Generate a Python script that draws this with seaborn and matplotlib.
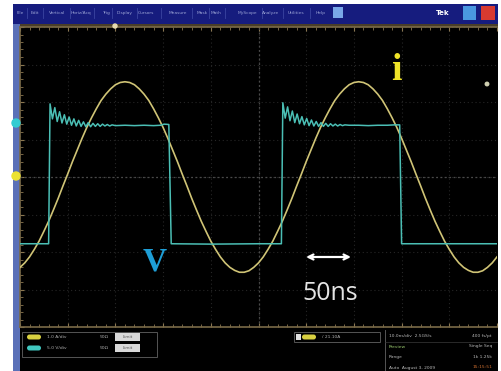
import matplotlib
matplotlib.use("Agg")
import matplotlib.pyplot as plt
from matplotlib.patches import Rectangle, Ellipse, FancyBboxPatch
from matplotlib.ticker import MultipleLocator
import pandas as pd
import seaborn as sns

# ---------------- data (screen divisions; 50 ns per horizontal division) ----------------
t_i = [0.0, 0.1, 0.2, 0.3, 0.4, 0.5, 0.6, 0.7, 0.8, 0.9,
       1.0, 1.1, 1.2, 1.3, 1.4, 1.5, 1.6, 1.7, 1.8, 1.9,
       2.0, 2.1, 2.2, 2.3, 2.4, 2.5, 2.6, 2.7, 2.8, 2.9,
       3.0, 3.1, 3.2, 3.3, 3.4, 3.5, 3.6, 3.7, 3.8, 3.9,
       4.0, 4.1, 4.2, 4.3, 4.4, 4.5, 4.6, 4.7, 4.8, 4.9,
       5.0, 5.1, 5.2, 5.3, 5.4, 5.5, 5.6, 5.7, 5.8, 5.9,
       6.0, 6.1, 6.2, 6.3, 6.4, 6.5, 6.6, 6.7, 6.8, 6.9,
       7.0, 7.1, 7.2, 7.3, 7.4, 7.5, 7.6, 7.7, 7.8, 7.9,
       8.0, 8.1, 8.2, 8.3, 8.4, 8.5, 8.6, 8.7, 8.8, 8.9,
       9.0, 9.1, 9.2, 9.3, 9.4, 9.5, 9.6, 9.7, 9.8, 9.9, 10.0]
i_vals = [-2.41, -2.29, -2.13, -1.93, -1.71, -1.45, -1.18, -0.88, -0.57, -0.24,
          0.08, 0.41, 0.72, 1.03, 1.32, 1.58, 1.82, 2.04, 2.21, 2.35,
          2.46, 2.52, 2.54, 2.52, 2.46, 2.35, 2.21, 2.04, 1.82, 1.58,
          1.32, 1.03, 0.72, 0.41, 0.08, -0.24, -0.57, -0.88, -1.18, -1.45,
          -1.71, -1.93, -2.13, -2.29, -2.41, -2.49, -2.54, -2.54, -2.50, -2.41,
          -2.29, -2.13, -1.93, -1.71, -1.45, -1.18, -0.88, -0.57, -0.24, 0.08,
          0.41, 0.72, 1.03, 1.32, 1.58, 1.82, 2.04, 2.21, 2.35, 2.46,
          2.52, 2.54, 2.52, 2.46, 2.35, 2.21, 2.04, 1.82, 1.58, 1.32,
          1.03, 0.72, 0.41, 0.08, -0.24, -0.57, -0.88, -1.18, -1.45, -1.71,
          -1.93, -2.13, -2.29, -2.41, -2.49, -2.54, -2.54, -2.50, -2.41, -2.29, -2.13]

t_v = [0.00, 0.60, 0.63, 0.68, 0.73, 0.78, 0.83, 0.88, 0.93, 0.98, 1.03, 1.08, 1.13,
       1.18, 1.23, 1.28, 1.33, 1.38, 1.43, 1.48, 1.53, 1.58, 1.63, 1.68, 1.73, 1.78,
       1.83, 1.88, 1.93, 2.00, 2.20, 2.40, 2.60, 2.80, 2.95, 3.02, 3.12, 3.17, 4.00,
       5.00, 5.48, 5.51, 5.56, 5.61, 5.66, 5.71, 5.76, 5.81, 5.86, 5.91, 5.96, 6.01,
       6.06, 6.11, 6.16, 6.21, 6.26, 6.31, 6.36, 6.41, 6.46, 6.51, 6.56, 6.61, 6.66,
       6.71, 6.76, 6.81, 6.90, 7.10, 7.30, 7.50, 7.70, 7.85, 7.96, 8.00, 9.00, 10.00]
v_vals = [-1.78, -1.78, 1.95, 1.55, 1.85, 1.48, 1.74, 1.44, 1.66, 1.41, 1.60, 1.38, 1.55,
          1.36, 1.51, 1.35, 1.47, 1.34, 1.45, 1.34, 1.43, 1.35, 1.42, 1.35, 1.41, 1.36,
          1.40, 1.36, 1.39, 1.37, 1.38, 1.37, 1.38, 1.37, 1.38, 1.41, 1.40, -1.78, -1.79,
          -1.78, -1.78, 1.98, 1.57, 1.87, 1.50, 1.76, 1.45, 1.68, 1.42, 1.61, 1.39, 1.56,
          1.37, 1.52, 1.36, 1.48, 1.35, 1.45, 1.35, 1.43, 1.35, 1.42, 1.36, 1.41, 1.36,
          1.40, 1.37, 1.39, 1.38, 1.38, 1.37, 1.38, 1.38, 1.39, 1.39, -1.78, -1.78, -1.78]

label_i = "i"
label_v = "V"
label_scale = "50ns"

menu_items = ["File", "Edit", "Vertical", "Horiz/Acq", "Trig", "Display", "Cursors",
              "Measure", "Mask", "Math", "MyScope", "Analyze", "Utilities", "Help"]
ch_scales = ["1.0 A/div", "5.0 V/div"]
trig_text = "/ 21.10A"
status_lines = [("10.0ns/div  2.5GS/s", "400 fs/pt"),
                ("Preview", "Single Seq"),
                ("Range", "1k 1.25k"),
                ("Auto  August 3, 2009", "15:15:51")]

# ---------------- layout ----------------
W, H = 501, 371
fig = plt.figure(figsize=(W / 100, H / 100), dpi=100, facecolor="white")

bg = fig.add_axes([0, 0, 1, 1], zorder=0)
bg.set_xlim(0, W); bg.set_ylim(H, 0); bg.axis("off")
bg.add_patch(Rectangle((13, 4), 485, 367, color="black", lw=0))
bg.add_patch(Rectangle((13, 4), 485, 20, color="#161c7e", lw=0))
bg.add_patch(Rectangle((13, 24), 7, 347, color="#5a70b8", lw=0))
bg.add_patch(Rectangle((20, 24), 478, 2.5, color="#4a3e28", lw=0))

# main scope graticule
ax = fig.add_axes([20 / W, 1 - 327 / H, 477 / W, 300 / H], zorder=1)
ax.set_facecolor("black")

df_i = pd.DataFrame({"t": t_i, "amp": i_vals})
df_v = pd.DataFrame({"t": t_v, "amp": v_vals})
sns.lineplot(data=df_i, x="t", y="amp", ax=ax, color="#d0c476", lw=1.2,
             estimator=None, sort=False, zorder=3)
sns.lineplot(data=df_v, x="t", y="amp", ax=ax, color="#4bbfb5", lw=1.1,
             estimator=None, sort=False, zorder=4)

ax.set_xlim(0, 10)
ax.set_ylim(-4, 4)
ax.set_xlabel(""); ax.set_ylabel("")
ax.xaxis.set_major_locator(MultipleLocator(1))
ax.yaxis.set_major_locator(MultipleLocator(1))
ax.xaxis.set_minor_locator(MultipleLocator(0.2))
ax.yaxis.set_minor_locator(MultipleLocator(0.2))
ax.tick_params(which="both", direction="in", colors="#8a7650", labelleft=False,
               labelbottom=False, top=True, right=False)
ax.tick_params(which="major", length=3, width=0.8)
ax.tick_params(which="minor", length=2, width=0.6)
ax.grid(True, which="major", color="#262626", linestyle=(0, (1, 2.5)), lw=0.8, zorder=1)
ax.axhline(0, color="#4a4a4a", linestyle=(0, (1.5, 2)), lw=0.9, zorder=2)
ax.axvline(5, color="#4a4a4a", linestyle=(0, (1.5, 2)), lw=0.9, zorder=2)
for side in ["top", "bottom", "left"]:
    ax.spines[side].set_color("#7a6a48")
    ax.spines[side].set_linewidth(1.2)
ax.spines["right"].set_visible(False)

# overlay: annotations and instrument chrome
fg = fig.add_axes([0, 0, 1, 1], zorder=5)
fg.patch.set_alpha(0)
fg.set_xlim(0, W); fg.set_ylim(H, 0); fg.axis("off")

fg.text(396, 70, label_i, color="#f0e428", fontsize=27, fontweight="bold",
        family="Liberation Serif", ha="center", va="center")
fg.text(155, 262, label_v, color="#1e9ed6", fontsize=24, fontweight="bold",
        family="Liberation Serif", ha="center", va="center")
fg.annotate("", xy=(351, 257), xytext=(306, 257),
            arrowprops=dict(arrowstyle="<->", color="white", lw=1.6,
                            mutation_scale=9, shrinkA=0, shrinkB=0))
fg.text(330, 293, label_scale, color="#e4e4e4", fontsize=18, family="Open Sans",
        ha="center", va="center")

# channel / trigger markers
fg.add_patch(Ellipse((16, 123), 8, 8, color="#32ccd2"))
fg.add_patch(Ellipse((16, 176), 8, 8, color="#ece232"))
fg.add_patch(Ellipse((115, 26), 4, 4, color="#e8dcb0"))
fg.add_patch(Ellipse((487, 84), 3.5, 3.5, color="#cfcfb0"))

# menu bar
menu_x = [20, 35, 57, 81, 106, 125, 146, 178, 202, 216, 247, 271, 296, 321]
for name, x in zip(menu_items, menu_x):
    fg.text(x, 13, name, color="#9aa2d4", fontsize=3.2, ha="center", va="center")
for x in [27, 43, 70, 94, 112, 137, 161, 192, 209, 225, 262, 283, 310]:
    fg.plot([x, x], [8, 18], color="#3a44a0", lw=0.6)
fg.add_patch(Rectangle((333, 7), 10, 11, color="#7aa8e8", lw=0))
fg.text(443, 13, "Tek", color="white", fontsize=5, fontweight="bold",
        ha="center", va="center")
fg.add_patch(Rectangle((463, 6), 13, 14, color="#4a98e0", lw=0))
fg.add_patch(Rectangle((481, 6), 14, 14, color="#d83a30", lw=0))

# bottom status panel
fg.add_patch(Rectangle((22, 332), 135, 25, fill=False, ec="#555555", lw=0.7))
for k, (col, txt) in enumerate(zip(["#d8d040", "#40c8c0"], ch_scales)):
    y = 337 + 11 * k
    fg.add_patch(FancyBboxPatch((27, y - 2.5), 14, 5, boxstyle="round,pad=0,rounding_size=2.5",
                                color=col, lw=0))
    fg.text(47, y, txt, color="#b0b0b0", fontsize=3.2, va="center")
    fg.text(100, y, "50Ω", color="#b0b0b0", fontsize=3.2, va="center")
    fg.add_patch(Rectangle((115, y - 4), 25, 8, color="#d8d8d8", lw=0))
    fg.text(127.5, y, "Limit", color="#555555", fontsize=3, ha="center", va="center")

fg.add_patch(Rectangle((294, 332), 86, 10, fill=False, ec="#555555", lw=0.7))
fg.add_patch(Rectangle((296, 334), 5, 6, color="#e0e0e0", lw=0))
fg.add_patch(FancyBboxPatch((302, 334.5), 14, 5, boxstyle="round,pad=0,rounding_size=2.5",
                            color="#d8d040", lw=0))
fg.text(322, 337, trig_text, color="#b0b0b0", fontsize=3.2, va="center")

fg.plot([385, 385], [330, 371], color="#555555", lw=0.7)
fg.plot([385, 497], [342, 342], color="#3a3a3a", lw=0.5)
for k, (left, right) in enumerate(status_lines):
    y = 336 + 10.5 * k
    fg.text(389, y, left, color="#9ccc70" if k == 1 else "#b8b8b8", fontsize=3.2, va="center")
    fg.text(492, y, right, color="#d07030" if k == 3 else "#b8b8b8", fontsize=3.2,
            va="center", ha="right")

fig.savefig("out.png", dpi=100, facecolor="white")
